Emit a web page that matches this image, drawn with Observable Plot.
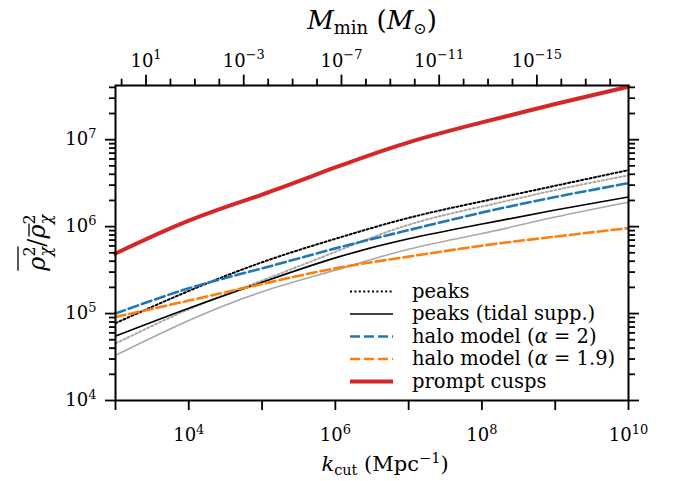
<!DOCTYPE html>
<html><head><meta charset="utf-8">
<script src="https://cdn.jsdelivr.net/npm/d3@7"></script>
<script src="https://cdn.jsdelivr.net/npm/@observablehq/plot@0.6"></script>
<style>body{margin:0;background:#fff;}</style>
</head><body>
<script>
// k_cut sample points (Mpc^-1)
const kCut = [1e3, 1e4, 1e5, 1e6, 1e7, 1e8, 1e9, 1e10];
// series values (rho^2 bar / rho bar^2)
const peaks        = [7.76e4, 1.82e5, 3.89e5, 7.24e5, 1.26e6, 1.95e6, 2.95e6, 4.47e6];
const peaksTidal   = [5.50e4, 1.15e5, 2.29e5, 4.37e5, 7.24e5, 1.07e6, 1.55e6, 2.19e6];
const halo2        = [1.00e5, 1.95e5, 3.31e5, 5.62e5, 9.12e5, 1.45e6, 2.19e6, 3.16e6];
const halo19       = [9.12e4, 1.41e5, 2.19e5, 3.31e5, 4.52e5, 6.03e5, 7.67e5, 9.62e5];
const promptCusps  = [4.90e5, 1.17e6, 2.34e6, 4.79e6, 9.33e6, 1.58e7, 2.57e7, 4.07e7];
const peaksAlt     = [4.52e4, 1.12e5, 2.40e5, 5.13e5, 1.05e6, 1.70e6, 2.63e6, 3.89e6];
const peaksTidalAlt= [3.31e4, 8.32e4, 1.78e5, 3.16e5, 5.50e5, 8.32e5, 1.29e6, 1.91e6];

// tick labels
const xTicks = [1e3, 1e4, 1e5, 1e6, 1e7, 1e8, 1e9, 1e10];
const xLabeled = [1e4, 1e6, 1e8, 1e10];
const yTicks = [1e4, 1e5, 1e6, 1e7];
const mMinLabeled = [1e1, 1e-3, 1e-7, 1e-11, 1e-15];
const mMinMinor = [1e2, 1e0, 1e-1, 1e-2, 1e-4, 1e-5, 1e-6, 1e-8, 1e-9, 1e-10, 1e-12, 1e-13, 1e-14, 1e-16, 1e-17, 1e-18];
const legendNames = ["peaks", "peaks (tidal supp.)", "halo model (α = 2)", "halo model (α = 1.9)", "prompt cusps"];

const yMax = 4.2e7;
const yMinor = [];
for (let d = 4; d <= 7; d++) for (let m = 2; m <= 9; m++) { const v = m * 10 ** d; if (v < yMax) yMinor.push(v); }

// M_min ∝ k_cut^-3
const mOffset = 11.25;
const kOfM = M => 10 ** ((mOffset - Math.log10(M)) / 3);
const supLabel = v => { const e = Math.round(Math.log10(v)); return "10^" + String(e).replace("-", "−"); };

const styles = [
  {name: "peaksAlt", values: peaksAlt, stroke: "#a9a9a9", w: 2, dash: "2,2.4"},
  {name: "peaksTidalAlt", values: peaksTidalAlt, stroke: "#a9a9a9", w: 1.6, dash: null},
  {name: "peaks", values: peaks, stroke: "black", w: 2, dash: "2,2.4"},
  {name: "peaksTidal", values: peaksTidal, stroke: "black", w: 1.6, dash: null},
  {name: "halo2", values: halo2, stroke: "#1f77b4", w: 2.6, dash: "10,4"},
  {name: "halo19", values: halo19, stroke: "#ff7f0e", w: 2.6, dash: "10,4"},
  {name: "prompt", values: promptCusps, stroke: "#d62728", w: 4, dash: null}
];

const lineMarks = styles.map(s => Plot.line(s.values.map((v, i) => ({k: kCut[i], v})), {
  x: "k", y: "v", stroke: s.stroke, strokeWidth: s.w, strokeDasharray: s.dash, curve: "natural"
}));

// plain tick shape for vector marks
const tickShape = {draw(context, l) { context.moveTo(0, 0); context.lineTo(0, -l); }};

const tickW = 1.8;
const svg = Plot.plot({
  width: 675, height: 481,
  marginLeft: 115, marginRight: 47, marginTop: 85, marginBottom: 81,
  x: {type: "log", domain: [1e3, 1e10]},
  y: {type: "log", domain: [1e4, yMax]},
  style: {fontFamily: "DejaVu Serif", fontSize: "18px", color: "black", background: "white"},
  marks: [
    ...lineMarks,
    Plot.axisX(xTicks, {anchor: "bottom", tickSize: 10, tickPadding: 18, strokeWidth: tickW,
      tickFormat: v => xLabeled.includes(v) ? supLabel(v) : "", label: null}),
    // top axis: M_min
    Plot.vector(mMinLabeled, {x: kOfM, frameAnchor: "top", length: 10, rotate: 0, anchor: "start",
      shape: tickShape, stroke: "black", strokeWidth: tickW}),
    Plot.vector(mMinMinor, {x: kOfM, frameAnchor: "top", length: 6, rotate: 0, anchor: "start",
      shape: tickShape, stroke: "black", strokeWidth: tickW}),
    Plot.text(mMinLabeled, {x: kOfM, frameAnchor: "top", dy: -19, lineAnchor: "bottom",
      text: supLabel, fill: "black", fontSize: 18}),
    Plot.axisY(yTicks, {anchor: "left", tickSize: 10, tickPadding: 9, strokeWidth: tickW,
      tickFormat: supLabel, label: null}),
    Plot.axisY(yMinor, {anchor: "left", tickSize: 6, strokeWidth: tickW, tickFormat: () => "", label: null}),
    Plot.axisY(yTicks, {anchor: "right", tickSize: 10, strokeWidth: tickW, tickFormat: () => "", label: null}),
    Plot.axisY(yMinor, {anchor: "right", tickSize: 6, strokeWidth: tickW, tickFormat: () => "", label: null}),
    Plot.frame({stroke: "black", strokeWidth: 2})
  ]
});
document.body.appendChild(svg);
const S = d3.select(svg);

// superscripts in tick labels
S.selectAll('g[aria-label$="tick label"] text, g[aria-label="text"] text').each(function () {
  const s = this.textContent;
  if (!s.includes("^")) return;
  const [b, e] = s.split("^");
  const t = d3.select(this);
  t.text(null);
  t.append("tspan").text(b);
  t.append("tspan").attr("font-size", "0.72em").attr("dy", "-0.55em").text(e);
});

function mathText(parent, parts, size) {
  const t = parent.append("text").attr("font-family", "DejaVu Serif").attr("font-size", size)
    .attr("fill", "black").attr("text-anchor", "start");
  parts.forEach(p => {
    const ts = t.append("tspan").text(p.t);
    if (p.i) ts.attr("font-style", "italic");
    if (p.s) ts.attr("font-size", p.s);
    if (p.dy) ts.attr("dy", p.dy);
    if (p.dx) ts.attr("dx", p.dx);
  });
  return t;
}
function centerAt(t, cx) {
  const bb = t.node().getBBox();
  t.attr("x", cx - (bb.x + bb.width / 2));
}

// x label (bottom)
const xl = mathText(S, [
  {t: "k", i: 1}, {t: "cut", s: 14.5, dy: 4}, {t: " (Mpc", dy: -4}, {t: "−1", s: 14.5, dy: -8}, {t: ")", dy: 8}
], 21).attr("y", 471);
centerAt(xl, 385);

// top label
const tl = mathText(S, [
  {t: "M", i: 1}, {t: "min", s: 18, dy: 5}, {t: " (", dy: -5}, {t: "M", i: 1}, {t: "⊙", s: 16, dy: 5}, {t: ")", dy: -5}
], 26).attr("y", 29);
centerAt(tl, 371.5);

// y label
const yg = S.append("g").attr("transform", "translate(45,242.5) rotate(-90)");
const yl = mathText(yg, [
  {t: "ρ", i: 1}, {t: "2", s: 16, dy: -10}, {t: "χ", i: 1, s: 16, dx: -10, dy: 16},
  {t: "/", dy: -6}, {t: "ρ", i: 1}, {t: "2", s: 16, dy: -10}, {t: "χ", i: 1, s: 16, dx: -10, dy: 16}
], 24).attr("y", 0);
centerAt(yl, 0);
{
  const n = yl.node();
  const x0 = n.getStartPositionOfChar(0).x;
  const x1 = Math.max(n.getEndPositionOfChar(1).x, n.getEndPositionOfChar(2).x);
  yg.append("line").attr("x1", x0).attr("x2", x1).attr("y1", -27).attr("y2", -27).attr("stroke", "black").attr("stroke-width", 1.3);
  const b0 = n.getStartPositionOfChar(4).x, b1 = n.getEndPositionOfChar(4).x;
  yg.append("line").attr("x1", b0 + 2).attr("x2", b1 + 1).attr("y1", -16).attr("y2", -16).attr("stroke", "black").attr("stroke-width", 1.3);
}

// legend
const legendStyles = [styles[2], styles[3], styles[4], styles[5], styles[6]];
const lg = S.append("g");
legendNames.forEach((name, i) => {
  const st = legendStyles[i];
  const y = 291.5 + i * 22.5;
  lg.append("line").attr("x1", 350).attr("x2", 393).attr("y1", y).attr("y2", y)
    .attr("stroke", st.stroke).attr("stroke-width", st.w).attr("stroke-dasharray", st.dash);
  const t = lg.append("text").attr("x", 412).attr("y", y + 6).attr("text-anchor", "start")
    .attr("font-family", "DejaVu Serif").attr("font-size", 19.5).attr("fill", "black");
  if (name.includes("α")) {
    const [a, b] = name.split("α");
    t.append("tspan").text(a);
    t.append("tspan").attr("font-style", "italic").text("α");
    t.append("tspan").text(b);
  } else t.text(name);
});
</script>
</body></html>
